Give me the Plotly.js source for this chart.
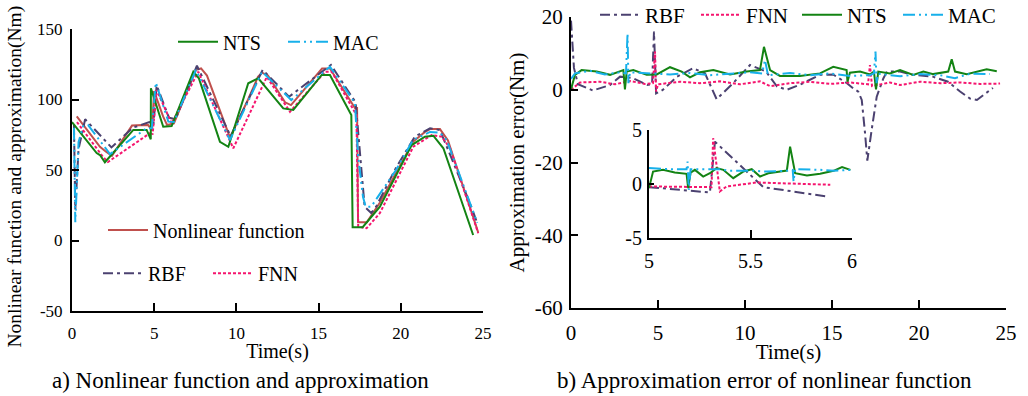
<!DOCTYPE html>
<html><head><meta charset="utf-8">
<script src="https://cdn.plot.ly/plotly-3.0.1.min.js"></script>
<style>html,body{margin:0;padding:0;background:#fff;} #chart{width:1028px;height:396px;}</style>
</head><body><div id="chart"></div>
<script>
// ---------- Panel a: nonlinear function and approximations ----------
const tFunc = [0.29,1.70,2.07,2.43,3.65,4.62,4.87,4.99,5.54,5.78,6.20,7.54,7.85,8.21,9.61,10.71,11.31,11.56,11.92,12.96,13.32,14.96,15.21,15.69,17.21,17.34,17.40,17.94,18.73,20.74,21.47,21.78,22.38,22.87,24.70];
const nonlinearFunc = [88,66.5,63,60,81.5,82,78,106,88,82,83,121,122,117,73,100,116,119,117,98,96,119,122,122,94,94,13,13,27,70,77,79,79,71,6];

const tRbfA = [0.12,0.20,0.40,0.80,2.40,3.70,4.70,4.95,5.15,5.90,6.30,7.60,9.65,11.60,13.20,15.75,17.25,17.60,17.80,18.20,18.50,19.70,20.85,21.78,22.38,24.20,24.65];
const rbfA = [82,22,65,86,66,80,84,82,110,87,86,124,74,121,102,124.5,98,50,24,19.5,24,51.4,73.6,79.6,78.4,26.6,12.4];

const tFnnA = [0.30,1.88,2.19,4.85,4.90,5.15,6.06,7.68,9.81,11.85,13.26,15.39,15.80,17.30,17.41,17.92,18.73,20.76,21.88,22.50,23.00,24.71];
const fnnA = [84,59.4,55.7,77,75,106.7,83,119.7,65.4,116,91.3,119.7,119.7,89,9.8,8.7,19.5,66.5,74.8,73.6,65.4,5.1];

const tNtsA = [0,1.50,1.70,2.00,3.73,4.54,4.79,4.80,5.55,6.06,7.38,7.72,9.00,9.51,10.72,11.33,12.85,13.46,15.19,15.69,16.99,17.07,17.68,18.73,20.66,21.47,21.98,22.59,24.40];
const ntsA = [84,62,60.6,55.5,78.4,78.4,71.8,108,80.7,81.2,119.7,115,70,66.5,111.5,115,93.7,92.6,117.4,117.4,89,9.4,9.4,24,67.7,73.6,74.3,65.4,3.9];

const tMacA = [0.12,0.20,0.40,0.68,0.97,2.31,4.54,4.85,5.10,5.86,6.20,7.54,9.61,11.56,13.34,15.69,17.21,17.40,17.70,17.86,18.20,19.71,20.74,21.78,22.38,22.79,24.65];
const macA = [80,13,70,81,82,61.3,79.6,79.6,112,84.3,84,121,71.3,119.7,99.6,123.3,97.5,60,31,24,24,50,71.3,77,76.5,71.3,12.6];

// ---------- Panel b: approximation error ----------
const tRbfB = [0,0.17,0.40,1.26,2.24,2.82,3.56,4.37,4.66,4.77,4.89,5.29,6.09,7.01,7.70,8.37,9.31,10.29,11.21,11.84,12.41,13.16,14.31,15.06,15.86,16.21,16.51,16.71,16.90,17.03,17.28,17.57,17.95,18.16,18.91,19.66,20.80,21.67,22.36,22.93,23.33,24.25];
const rbfB = [19,6,1.5,-0.2,1.3,3.6,3.2,1.3,1.5,16,-1,0,3.6,5.9,4.5,-2.6,1.8,6.8,5.0,0.9,0,1.4,4.1,4.2,1.8,0.4,-0.5,-2.8,-12,-19.5,-11,-1.9,3.1,5.0,5.0,4.1,3.6,2.2,-0.5,-2.4,-2.8,0.5];

const tFnnB = [0,0.52,1.67,2.53,3.39,4.25,4.71,4.83,4.89,5.00,6.26,7.41,8.56,9.71,10.86,11.44,12.59,13.74,14.89,16.03,17.07,17.18,17.30,18.33,18.91,20.06,21.21,22.36,23.51,24.66];
const fnnB = [0,2.0,2.2,1.5,2.4,1.6,1.8,10.5,-0.5,1.5,2.2,1.8,2.3,1.5,2.3,1.0,1.8,2.2,1.6,2.0,1.5,6.8,1.0,2.0,1.3,2.2,1.8,2.0,1.6,1.7];

const tNtsB = [0,0.23,0.61,1.48,2.24,3.01,3.10,3.20,3.58,4.35,4.93,5.69,6.36,6.84,7.41,8.18,9.14,10.10,10.86,11.09,11.44,12.01,13.16,14.31,15.07,15.84,15.89,16.03,16.61,17.18,17.41,17.53,17.66,18.33,18.91,19.67,20.25,20.82,21.68,21.88,22.07,22.74,23.89,24.47];
const ntsB = [0.1,4.1,5.4,5.0,4.1,5.4,0.1,5.0,5.4,4.1,4.2,6.2,5.0,3.4,4.8,5.4,4.2,5.0,5.4,11.8,5.4,3.8,3.8,4.5,6.3,5.4,2.2,4.7,5.0,4.2,5.0,0.1,5.0,4.5,5.4,4.1,5.0,4.3,5.0,8.4,5.0,4.3,5.6,5.1];

const tMacB = [0,0.23,1.09,1.95,2.82,3.16,3.25,3.30,3.39,4.54,5.69,6.84,7.99,9.14,10.29,10.98,11.15,11.32,12.59,13.74,14.89,16.03,17.18,17.41,17.50,17.56,17.64,18.91,20.06,21.21,22.07,22.93,24.08];
const macB = [3.0,4.5,5.2,4.2,4.8,4.5,15.5,1.8,4.8,4.6,4.2,4.6,4.0,4.4,4.8,4.5,8.2,4.0,4.6,4.0,4.5,3.8,4.0,4.5,10.5,1.8,4.4,3.7,4.3,4.0,3.2,4.4,4.3];

// ---------- Inset (5 s to 6 s) ----------
const tRbfIn = [5.000,5.300,5.325,5.563,5.876];
const rbfIn = [-0.29,-0.78,3.92,-0.29,-1.15];
const tFnnIn = [5.000,5.300,5.308,5.316,5.333,5.349,5.382,5.530,5.893];
const fnnIn = [-0.23,-0.29,-0.29,4.24,1.62,-0.69,-0.23,0.14,-0.07];
const tNtsIn = [5.000,5.020,5.069,5.127,5.185,5.193,5.205,5.226,5.267,5.300,5.333,5.366,5.415,5.464,5.506,5.547,5.588,5.646,5.679,5.695,5.720,5.778,5.843,5.909,5.951,5.992];
const ntsIn = [-0.38,1.15,1.31,1.06,0.94,-0.38,1.06,1.31,0.69,1.0,1.47,1.31,0.54,1.15,1.37,0.69,1.0,1.15,1.25,3.46,1.0,0.79,0.94,1.22,1.56,1.31];
const tMacIn = [5.000,5.102,5.185,5.190,5.196,5.205,5.349,5.399,5.514,5.580,5.679,5.708,5.712,5.720,5.843,5.909,6.000];
const macIn = [1.47,1.37,1.37,2.08,-0.54,1.37,1.37,1.22,1.22,1.15,1.22,1.31,0.23,1.37,1.31,1.22,1.31];

// ---------- Tick labels ----------
const timeTicks = [0,5,10,15,20,25];
const yTicksA = [-50,0,50,100,150];
const yTickTextA = ['-50','0','50','100','150'];
const yTicksB = [-60,-40,-20,0,20];
const yTickTextB = ['-60','-40','-20','0','20'];
const xTicksIn = [5,5.5,6];
const yTicksIn = [-5,0,5];
const yTickTextIn = ['-5','0','5'];

const C = {func:'#c0504d', rbf:'#4b4170', fnn:'#f5156e', nts:'#138313', mac:'#17b0ea'};
const D = {rbf:'10px,4px,3px,4px', fnn:'3px,2px', mac:'12px,4px,2px,4px,2px,4px'};
const W = 2;
function tr(x, y, name, key, xa, ya, legend, show, dash) {
  return {x:x, y:y, name:name, type:'scatter', mode:'lines', xaxis:xa, yaxis:ya,
    legend:legend, showlegend:show,
    line:{color:C[key], width:W, dash:dash || 'solid'}};
}
const data = [
  tr(tFunc, nonlinearFunc, 'Nonlinear function', 'func', 'x', 'y', 'legend2', true),
  tr(tRbfA, rbfA, 'RBF', 'rbf', 'x', 'y', 'legend3', true, D.rbf),
  tr(tFnnA, fnnA, 'FNN', 'fnn', 'x', 'y', 'legend3', true, D.fnn),
  tr(tNtsA, ntsA, 'NTS', 'nts', 'x', 'y', 'legend', true),
  tr(tMacA, macA, 'MAC', 'mac', 'x', 'y', 'legend', true, D.mac),
  tr(tRbfB, rbfB, 'RBF', 'rbf', 'x2', 'y2', 'legend4', true, D.rbf),
  tr(tFnnB, fnnB, 'FNN', 'fnn', 'x2', 'y2', 'legend4', true, D.fnn),
  tr(tNtsB, ntsB, 'NTS', 'nts', 'x2', 'y2', 'legend4', true),
  tr(tMacB, macB, 'MAC', 'mac', 'x2', 'y2', 'legend4', true, D.mac),
  tr(tRbfIn, rbfIn, 'RBF', 'rbf', 'x3', 'y3', 'legend4', false, D.rbf),
  tr(tFnnIn, fnnIn, 'FNN', 'fnn', 'x3', 'y3', 'legend4', false, D.fnn),
  tr(tNtsIn, ntsIn, 'NTS', 'nts', 'x3', 'y3', 'legend4', false),
  tr(tMacIn, macIn, 'MAC', 'mac', 'x3', 'y3', 'legend4', false, D.mac)
];

const PW = 1028, PH = 396;
const px = v => v / PW;
const py = v => 1 - v / PH;
const ax = {showline:true, linecolor:'#000', linewidth:2, showgrid:false, zeroline:false,
  ticks:'inside', ticklen:8, tickwidth:2, tickcolor:'#000', automargin:false};
const leg = (x, y, w, fs) => ({x:px(x), y:py(y), xanchor:'left', yanchor:'top', orientation:'h',
  bgcolor:'rgba(0,0,0,0)', borderwidth:0, font:{size:fs || 20, color:'#000'}, itemwidth:40,
  entrywidth:w, entrywidthmode:'pixels'});

const layout = {
  width:PW, height:PH, margin:{l:0, r:0, t:0, b:0, autoexpand:false},
  paper_bgcolor:'#fff', plot_bgcolor:'rgba(0,0,0,0)',
  font:{family:'Liberation Serif, Times New Roman, serif', color:'#000'},
  xaxis: Object.assign({}, ax, {domain:[px(72), px(483)], anchor:'y', range:[0,25], tickvals:timeTicks,
    tickfont:{size:17}, ticklabelstandoff:6, title:{text:'Time(s)', font:{size:20}, standoff:2}}),
  yaxis: Object.assign({}, ax, {domain:[py(311), py(29)], anchor:'x', range:[-50,150], tickvals:yTicksA,
    ticktext:yTickTextA, ticklen:7, tickfont:{size:17}, ticklabelstandoff:4}),
  xaxis2: Object.assign({}, ax, {domain:[px(571), px(1006)], anchor:'y2', range:[0,25], tickvals:timeTicks,
    tickfont:{size:21}, ticklabelstandoff:5, title:{text:'Time(s)', font:{size:21}, standoff:0}}),
  yaxis2: Object.assign({}, ax, {domain:[py(308), py(17)], anchor:'x2', range:[-60,20], tickvals:yTicksB,
    ticktext:yTickTextB, ticklen:7, tickfont:{size:21}, ticklabelstandoff:2,
    title:{text:'Approximation error(Nm)', font:{size:21}, standoff:4}}),
  xaxis3: Object.assign({}, ax, {domain:[px(649), px(852)], anchor:'y3', range:[5,6], tickvals:xTicksIn,
    tickfont:{size:20}, ticklabelstandoff:4}),
  yaxis3: Object.assign({}, ax, {domain:[py(238), py(130)], anchor:'x3', range:[-5,5], tickvals:yTicksIn,
    ticktext:yTickTextIn, ticklen:5, tickfont:{size:20}, ticklabelstandoff:1}),
  legend: leg(173, 22.2, 55),
  legend2: leg(103, 210.5, 0),
  legend3: leg(98, 253.8, 55),
  legend4: leg(595, -5.5, 46, 21),
  annotations:[
    {text:'Nonlinear function and approximation(Nm)', xref:'paper', yref:'paper', x:px(14.5), y:py(177),
      textangle:-90, showarrow:false, xanchor:'center', yanchor:'middle', font:{size:19.5}},
    {text:'a) Nonlinear function and approximation', xref:'paper', yref:'paper', x:px(240), y:py(380),
      showarrow:false, xanchor:'center', yanchor:'middle', font:{size:23}},
    {text:'b) Approximation error of nonlinear function', xref:'paper', yref:'paper', x:px(764), y:py(380),
      showarrow:false, xanchor:'center', yanchor:'middle', font:{size:23}}
  ]
};

Plotly.newPlot('chart', data, layout, {staticPlot:true});
</script></body></html>
